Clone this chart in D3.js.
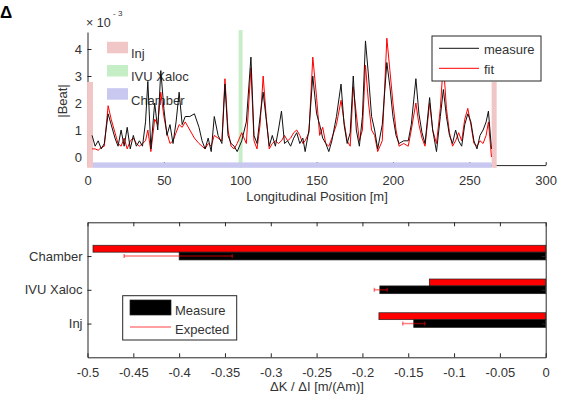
<!DOCTYPE html>
<html><head><meta charset="utf-8">
<script src="https://cdn.jsdelivr.net/npm/d3@7/dist/d3.min.js"></script>
<style>
body{margin:0;background:#fff}
svg{display:block}
text{font-family:"Liberation Sans",Arial,Helvetica,sans-serif;fill:#333}
</style>
</head><body>
<svg id="c" width="562" height="394"></svg>
<script>
// ---------- DATA ----------
// top panel: beta-beat along the ring (x1e-3)
const positions = [3,5,7,9,11,13.5,15.5,18,20,22,24,26,28,30,32,34,36,38,39.5,41.5,44,46,48,50,52,54,56,58,60,62,64,67,70,73,75,77,79,81,83,85.5,88,90,92,94,96,98,101,104,107,109,111,113,115,117,119,121,123,125,127,129,131,133,135,137,139,141,142.5,145,147.5,150,152,154,156,158,160,163,166,168,170,172,174,176,178,180,182,184,186,188,190,193,196,198,200,202,204,207,210,212,215,217,219,221,224,226,228.5,231,233,235,237,239,241,243,245,247,249,251,253,255,257,259,261,262.5,264.5];
const measure = [0.8,0.4,0.6,0.3,0.5,1.6,1.2,0.7,0.4,1.0,0.4,1.1,0.3,0.8,0.4,0.6,0.4,1.3,2.8,0.3,2.0,1.0,3.2,1.8,0.8,1.2,0.5,1.3,2.4,1.2,1.5,1.5,1.6,1.1,0.6,0.3,0.7,0.2,1.5,0.8,0.5,2.7,0.8,0.5,0.4,0.2,0.6,1.3,3.7,0.8,0.5,1.5,2.4,1.4,0.4,0.8,0.4,1.0,1.7,0.5,0.6,0.4,0.7,0.9,0.5,0.7,0.2,1.0,3.0,1.6,1.2,0.7,0.5,0.2,0.6,1.5,2.7,1.2,0.5,0.9,3.0,1.0,0.4,1.5,4.3,3.0,1.5,1.0,0.3,1.2,3.5,2.6,1.5,0.8,0.5,0.6,0.6,1.2,2.9,1.6,0.9,0.5,2.2,1.0,0.2,1.5,2.5,1.5,0.8,0.5,1.0,0.6,0.4,1.2,1.6,1.3,0.6,0.3,0.8,1.0,1.3,1.7,0.3];
const fit = [0.3,0.3,0.25,0.35,0.4,1.9,1.4,0.9,0.5,0.4,0.7,0.3,0.6,0.7,0.5,0.4,0.5,0.6,1.0,0.2,1.4,1.2,2.4,1.5,0.9,0.5,0.6,0.9,1.2,1.1,1.3,1.0,0.7,0.5,0.4,0.3,0.5,0.4,0.8,0.7,0.6,2.9,1.0,0.4,0.3,0.5,0.9,0.5,3.3,0.6,0.3,1.2,3.0,1.5,0.3,0.5,0.6,0.5,0.6,0.8,0.6,0.7,0.9,1.0,0.8,0.5,0.6,0.9,3.7,2.2,0.8,1.1,0.5,0.4,0.7,1.2,2.1,1.3,0.6,0.4,2.6,1.6,0.6,1.0,3.4,2.0,1.0,0.8,0.2,0.6,4.4,3.2,2.0,1.0,0.4,0.5,0.4,1.0,2.0,1.2,0.7,0.4,2.0,1.0,0.5,1.8,3.5,1.8,0.9,0.4,0.6,0.9,0.6,1.4,1.8,1.2,0.5,0.4,0.6,0.5,0.8,1.3,0.0];
const topXTicks = [0,50,100,150,200,250,300];
const topYTicks = [0,1,2,3,4];
const regionNames = ["Inj","IVU Xaloc","Chamber"];
const injSpans = [[-0.3,3.6],[264.6,267.9]];
const ivuSpan = [99,101.5];
const chamberSpan = [3.6,264.6];
const lineNames = ["measure","fit"];

// bottom panel
const categories = ["Chamber","IVU Xaloc","Inj"];
const measured = [-0.40,-0.181,-0.144];
const redBars = [-0.494,-0.127,-0.182];
const expectedCenter = [-0.401,-0.18,-0.144];
const expectedErr = [0.059,0.007,0.012];
const bottomXTicks = [-0.5,-0.45,-0.4,-0.35,-0.3,-0.25,-0.2,-0.15,-0.1,-0.05,0];
const barLegend = ["Measure","Expected"];

// ---------- DRAW ----------
const svg = d3.select("#c");
const AX = "#262626";
const FS = 13;

// panel label
svg.append("text").attr("x",0).attr("y",18).style("font-size","17px").style("font-weight","bold").style("fill","#000").text("Δ");

// ---- top panel ----
const x1 = d3.scaleLinear().domain([0,300]).range([87.5,545.7]);
const y1 = d3.scaleLinear().domain([-0.3,4.63]).range([165.1,32]);

const gx1 = svg.append("g").attr("transform",`translate(0,${y1(-0.3)})`)
  .call(d3.axisBottom(x1).tickValues(topXTicks).tickFormat(d3.format("d")).tickSizeInner(-3).tickSizeOuter(0).tickPadding(11));
const gy1 = svg.append("g").attr("transform",`translate(${x1(0)},0)`)
  .call(d3.axisLeft(y1).tickValues(topYTicks).tickFormat(d3.format("d")).tickSizeInner(-4).tickSizeOuter(0).tickPadding(5.5));
[gx1,gy1].forEach(g=>{
  g.selectAll("path,line").attr("stroke",AX);
  g.selectAll("text").style("font-size",FS+"px").style("fill","#333").attr("font-family",null);
});

// region patches
injSpans.forEach(s=>{
  svg.append("rect").attr("x",x1(s[0])).attr("width",x1(s[1])-x1(s[0]))
    .attr("y",y1(2.78)).attr("height",y1(-0.4)-y1(2.78)).attr("fill","#f0c6c6");
});
svg.append("rect").attr("x",x1(ivuSpan[0])).attr("width",x1(ivuSpan[1])-x1(ivuSpan[0]))
  .attr("y",y1(4.7)).attr("height",y1(-0.4)-y1(4.7)).attr("fill","#c6eec6");
svg.append("rect").attr("x",x1(chamberSpan[0])).attr("width",x1(chamberSpan[1])-x1(chamberSpan[0]))
  .attr("y",y1(-0.2)).attr("height",y1(-0.4)-y1(-0.2)).attr("fill","#c8c8f0");

// region legend
const regColors = ["#f0c6c6","#c6eec6","#c8c8f0"];
regionNames.forEach((n,i)=>{
  svg.append("rect").attr("x",107).attr("y",41.8+i*23.2).attr("width",21).attr("height",11.5).attr("fill",regColors[i]);
  svg.append("text").attr("x",131).attr("y",57.5+i*23.5).style("font-size",FS+"px").text(n);
});

// axis labels
svg.append("text").attr("transform","translate(67,101) rotate(-90)").attr("text-anchor","middle").style("font-size",FS+"px").text("|Beat|");
svg.append("text").attr("x",317).attr("y",201).attr("text-anchor","middle").style("font-size",FS+"px").text("Longitudinal Position [m]");
svg.append("text").attr("x",86).attr("y",27).style("font-size","12.5px").text("× 10");
svg.append("text").attr("x",113).attr("y",16).style("font-size","8px").text("- 3");

// lines
const line1 = d3.line().x((d,i)=>x1(positions[i])).y(d=>y1(d));
svg.append("path").datum(fit).attr("d",line1).attr("fill","none").attr("stroke","#ff0000").attr("stroke-width",1);
svg.append("path").datum(measure).attr("d",line1).attr("fill","none").attr("stroke","#111").attr("stroke-width",1);

// line legend
svg.append("rect").attr("x",432).attr("y",36).attr("width",109).attr("height",45).attr("fill","#fff").attr("stroke",AX).attr("stroke-width",1);
const lcol = ["#111","#ff0000"];
lineNames.forEach((n,i)=>{
  svg.append("line").attr("x1",439).attr("x2",479).attr("y1",48.3+i*20).attr("y2",48.3+i*20).attr("stroke",lcol[i]).attr("stroke-width",1);
  svg.append("text").attr("x",484).attr("y",54+i*19.5).style("font-size",FS+"px").text(n);
});

// ---- bottom panel ----
const x2 = d3.scaleLinear().domain([-0.5,0]).range([87.5,545.7]);
const y2 = d3.scaleLinear().domain([0,4]).range([222.3,357.3]);

// bars
categories.forEach((c,i)=>{
  const k = i+1;
  svg.append("rect").attr("x",x2(redBars[i])).attr("width",x2(0)-x2(redBars[i]))
    .attr("y",y2(k-0.32)).attr("height",y2(k-0.115)-y2(k-0.32))
    .attr("fill","#ff0000").attr("stroke","#222").attr("stroke-width",0.7);
  svg.append("rect").attr("x",x2(measured[i])).attr("width",x2(0)-x2(measured[i]))
    .attr("y",y2(k-0.115)).attr("height",y2(k+0.115)-y2(k-0.115))
    .attr("fill","#000").attr("stroke","#222").attr("stroke-width",0.7);
});
// error bars
categories.forEach((c,i)=>{
  const k=i+1, yy=y2(k), a=x2(expectedCenter[i]-expectedErr[i]), b=x2(expectedCenter[i]+expectedErr[i]);
  const g = svg.append("g").attr("stroke","#ff0000").attr("stroke-opacity",0.5).attr("stroke-width",1.5);
  g.append("line").attr("x1",a).attr("x2",b).attr("y1",yy).attr("y2",yy);
  [a,b].forEach(xx=>g.append("line").attr("x1",xx).attr("x2",xx).attr("y1",yy-2).attr("y2",yy+2));
});

// box + axes
const gxb = svg.append("g").attr("transform",`translate(0,${y2(4)})`)
  .call(d3.axisBottom(x2).tickValues(bottomXTicks).tickFormat(d=>d===0?"0":String(d)).tickSizeInner(-4).tickSizeOuter(0).tickPadding(10));
const gxt = svg.append("g").attr("transform",`translate(0,${y2(0)})`)
  .call(d3.axisTop(x2).tickValues(bottomXTicks).tickFormat("").tickSizeInner(-4).tickSizeOuter(0));
const gyl = svg.append("g").attr("transform",`translate(${x2(-0.5)},0)`)
  .call(d3.axisLeft(y2).tickValues([1,2,3]).tickFormat(d=>categories[d-1]).tickSizeInner(-4).tickSizeOuter(0).tickPadding(5));
const gyr = svg.append("g").attr("transform",`translate(${x2(0)},0)`)
  .call(d3.axisRight(y2).tickValues([1,2,3]).tickFormat("").tickSizeInner(-4).tickSizeOuter(0));
[gxb,gxt,gyl,gyr].forEach(g=>{
  g.selectAll("path,line").attr("stroke",AX);
  g.selectAll("text").style("font-size",FS+"px").style("fill","#333").attr("font-family",null);
});

// bar legend
svg.append("rect").attr("x",122.7).attr("y",295.7).attr("width",114).attr("height",44.3).attr("fill","#fff").attr("stroke",AX).attr("stroke-width",1);
svg.append("rect").attr("x",130).attr("y",300).attr("width",41).attr("height",15).attr("fill","#000").attr("stroke","#222").attr("stroke-width",0.7);
svg.append("line").attr("x1",130).attr("x2",171).attr("y1",327).attr("y2",327).attr("stroke","#ff0000").attr("stroke-opacity",0.5).attr("stroke-width",1.5);
svg.append("text").attr("x",175).attr("y",315).style("font-size",FS+"px").text(barLegend[0]);
svg.append("text").attr("x",175).attr("y",334).style("font-size",FS+"px").text(barLegend[1]);

svg.append("text").attr("x",317).attr("y",391).attr("text-anchor","middle").style("font-size",FS+"px").text("ΔK / ΔI [m/(Am)]");
</script>
</body></html>
